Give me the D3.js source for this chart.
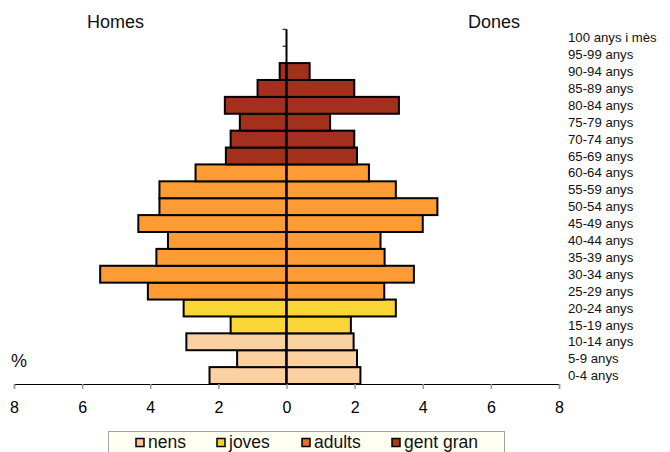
<!DOCTYPE html>
<html>
<head>
<meta charset="utf-8">
<script src="https://cdn.jsdelivr.net/npm/d3@7"></script>
<style>
html,body{margin:0;padding:0;background:#fff;}
svg{display:block;font-family:Arial,"Liberation Sans",sans-serif;}
</style>
</head>
<body>
<svg id="chart" width="670" height="452"></svg>
<script>
// Age groups, bottom to top
const categories = ["0-4 anys","5-9 anys","10-14 anys","15-19 anys","20-24 anys","25-29 anys","30-34 anys","35-39 anys","40-44 anys","45-49 anys","50-54 anys","55-59 anys","60-64 anys","65-69 anys","70-74 anys","75-79 anys","80-84 anys","85-89 anys","90-94 anys","95-99 anys","100 anys i mès"];
// Percentages
const homes = [2.26,1.45,2.94,1.64,3.02,4.07,5.47,3.82,3.48,4.35,3.73,3.73,2.67,1.78,1.64,1.37,1.81,0.85,0.2,0,0];
const dones = [2.17,2.07,1.97,1.89,3.21,2.87,3.74,2.88,2.76,4.00,4.43,3.21,2.42,2.07,1.99,1.28,3.30,1.99,0.68,0,0];
// Group of each age band
const groups = ["nens","nens","nens","joves","joves","adults","adults","adults","adults","adults","adults","adults","adults","gent gran","gent gran","gent gran","gent gran","gent gran","gent gran","gent gran","gent gran"];
const groupNames = ["nens","joves","adults","gent gran"];
const xTicks = [-8,-6,-4,-2,0,2,4,6,8];

const barColor = d3.scaleOrdinal().domain(groupNames).range(["#FBD1A2","#F9D535","#FD9C35","#A2301D"]);
const legendColor = d3.scaleOrdinal().domain(groupNames).range(["#F9C596","#F5D031","#EE6A2C","#A33E1B"]);

const svg = d3.select("#chart");
const x = d3.scaleLinear().domain([-8, 8]).range([14, 559]);
const y = d3.scaleBand().domain(categories.slice().reverse()).range([29.3, 384]).padding(0);

const rows = categories.map((c, i) => ({cat: c, h: homes[i], d: dones[i], g: groups[i]}));

// bars
const bars = svg.append("g");
bars.selectAll("rect.h").data(rows.filter(r => r.h > 0)).join("rect")
  .attr("x", r => x(-r.h)).attr("y", r => y(r.cat))
  .attr("width", r => x(0) - x(-r.h)).attr("height", y.bandwidth())
  .attr("fill", r => barColor(r.g)).attr("stroke", "#000").attr("stroke-width", 2);
bars.selectAll("rect.d").data(rows.filter(r => r.d > 0)).join("rect")
  .attr("x", x(0)).attr("y", r => y(r.cat))
  .attr("width", r => x(r.d) - x(0)).attr("height", y.bandwidth())
  .attr("fill", r => barColor(r.g)).attr("stroke", "#000").attr("stroke-width", 2);

// bottom axis
const xAxis = svg.append("g").attr("transform", "translate(0,384)")
  .call(d3.axisBottom(x).tickValues(xTicks).tickFormat(d => Math.abs(d)).tickSize(5).tickPadding(13));
xAxis.select(".domain").attr("stroke", "#000").attr("stroke-width", 1.2);
xAxis.selectAll(".tick line").attr("stroke", "#999").attr("stroke-width", 1.5);
xAxis.selectAll(".tick text").attr("font-size", 16).attr("fill", "#000")
  .attr("font-family", "Arial,'Liberation Sans',sans-serif");

// center vertical axis
const boundaries = categories.map(c => y(c)).concat([384]);
const cAxis = svg.append("g");
cAxis.append("line").attr("x1", x(0)).attr("x2", x(0)).attr("y1", 29.3).attr("y2", 384)
  .attr("stroke", "#000").attr("stroke-width", 2);
cAxis.selectAll("line.t").data(boundaries).join("line")
  .attr("x1", x(0) - 4).attr("x2", x(0)).attr("y1", d => d).attr("y2", d => d)
  .attr("stroke", "#000").attr("stroke-width", 1);

// category labels
svg.append("g").selectAll("text").data(categories).join("text")
  .attr("x", 568).attr("y", c => y(c) + y.bandwidth() / 2).attr("dy", "0.35em")
  .attr("font-size", 13.2).attr("fill", "#111").text(c => c);

// titles
svg.append("text").attr("x", 87).attr("y", 28).attr("font-size", 18).attr("fill", "#111").text("Homes");
svg.append("text").attr("x", 468).attr("y", 28).attr("font-size", 18).attr("fill", "#111").text("Dones");
svg.append("text").attr("x", 11).attr("y", 367).attr("font-size", 18).attr("fill", "#111").text("%");

// legend
const lg = svg.append("g");
lg.append("rect").attr("x", 108.5).attr("y", 431.5).attr("width", 396).attr("height", 30)
  .attr("fill", "#FFFFF2").attr("stroke", "#A0A0A0").attr("stroke-width", 1);
const legendX = [136, 217, 302, 392];
const items = lg.selectAll("g.item").data(groupNames).join("g")
  .attr("transform", (d, i) => `translate(${legendX[i]},0)`);
items.append("rect").attr("x", 0).attr("y", 438.5).attr("width", 8).attr("height", 8)
  .attr("fill", d => legendColor(d)).attr("stroke", "#000").attr("stroke-width", 1.5);
items.append("text").attr("x", 12).attr("y", 447.5)
  .attr("font-size", 17.5).attr("fill", "#111").text(d => d);
</script>
</body>
</html>
